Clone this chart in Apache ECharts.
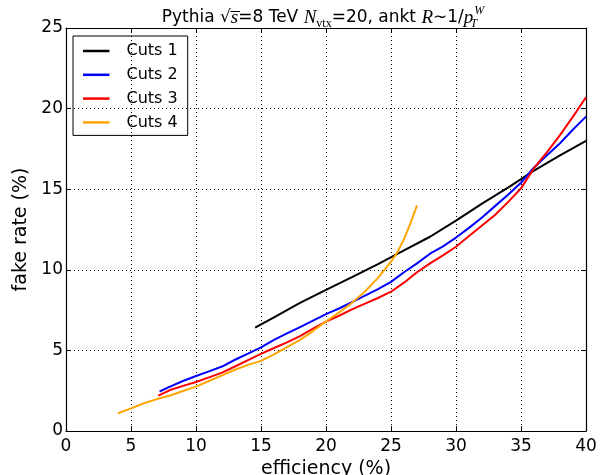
<!DOCTYPE html>
<html>
<head>
<meta charset="utf-8">
<script src="https://cdn.jsdelivr.net/npm/echarts@6/dist/echarts.min.js"></script>
<style>html,body{margin:0;padding:0;background:#fff}#c{width:600px;height:475px}</style>
</head>
<body>
<div id="c"></div>
<script>
// ---- data ----
var seriesNames = ['Cuts 1', 'Cuts 2', 'Cuts 3', 'Cuts 4'];
var seriesColors = ['#000000', '#0000ff', '#ff0000', '#ffa500'];

var cuts1X = [14.55, 16, 18, 20, 22, 24, 26, 28, 30, 32, 34, 36, 38, 40];
var cuts1Y = [6.42, 7.05, 7.95, 8.75, 9.55, 10.35, 11.2, 12.05, 13.05, 14.1, 15.1, 16.15, 17.1, 18.0];

var cuts2X = [7.2, 8, 9, 10, 11, 12, 13, 14, 15, 16, 17, 18, 19, 20, 21, 22, 23, 24, 25, 26, 27, 28, 29, 30, 31, 32, 33, 34, 35, 36, 37, 38, 39, 40];
var cuts2Y = [2.45, 2.75, 3.1, 3.41, 3.7, 4.0, 4.42, 4.8, 5.19, 5.65, 6.05, 6.45, 6.85, 7.25, 7.6, 8.0, 8.4, 8.8, 9.25, 9.85, 10.4, 11.0, 11.45, 12.0, 12.6, 13.25, 13.95, 14.65, 15.4, 16.35, 17.1, 17.85, 18.7, 19.5];

var cuts3X = [7.1, 8, 9, 10, 11, 12, 13, 14, 15, 16, 17, 18, 19, 20, 21, 22, 23, 24, 25, 26, 27, 28, 29, 30, 31, 32, 33, 34, 35, 36, 37, 38, 39, 40];
var cuts3Y = [2.2, 2.54, 2.8, 3.04, 3.33, 3.62, 4.0, 4.4, 4.78, 5.15, 5.5, 5.89, 6.35, 6.78, 7.15, 7.55, 7.9, 8.25, 8.64, 9.2, 9.85, 10.4, 10.9, 11.43, 12.1, 12.75, 13.4, 14.2, 15.05, 16.3, 17.3, 18.35, 19.5, 20.7];

var cuts4X = [4.0, 5, 6, 7, 8, 9, 10, 11, 12, 13, 14, 15, 16, 17, 18, 19, 20, 21, 22, 23, 24, 24.5, 25, 25.5, 26, 26.5, 27];
var cuts4Y = [1.1, 1.4, 1.72, 1.98, 2.2, 2.48, 2.75, 3.1, 3.45, 3.8, 4.1, 4.35, 4.75, 5.2, 5.65, 6.2, 6.8, 7.35, 7.95, 8.65, 9.5, 10.0, 10.5, 11.1, 11.9, 12.9, 14.0];

var xTicks = [0, 5, 10, 15, 20, 25, 30, 35, 40];
var yTicks = [0, 5, 10, 15, 20, 25];
var xTitle = 'efficiency (%)';
var yTitle = 'fake rate (%)';

// ---- build ----
var xs = [cuts1X, cuts2X, cuts3X, cuts4X];
var ys = [cuts1Y, cuts2Y, cuts3Y, cuts4Y];
function zip(a, b) { return a.map(function (v, i) { return [v, b[i]]; }); }

var FONT = 'DejaVu Sans';
var chart = echarts.init(document.getElementById('c'), null, { renderer: 'canvas' });

var gridLine = { show: true, lineStyle: { color: '#000', type: [1, 3], width: 1 } };
var frameLine = { show: true, onZero: false, lineStyle: { color: '#000', width: 1.2 } };
var tickIn = { show: true, inside: true, length: 5, lineStyle: { color: '#000', width: 1 } };

var option = {
  animation: false,
  backgroundColor: '#fff',
  title: {
    left: 318, textAlign: 'center', top: 0,
    text: '{n|Pythia }{n|√}{it|s\u0305}{n|=8 TeV }{it|N}{sub|vtx}{n|=20, ankt }{it|R}{n|∼1/}{it|p}{subT|T}{sup|W}',
    textStyle: {
      fontWeight: 'normal',
      rich: {
        n: { fontFamily: FONT, fontSize: 17, fontWeight: 'normal', color: '#000', lineHeight: 25, verticalAlign: 'middle' },
        it: { fontFamily: 'Liberation Serif', fontStyle: 'italic', fontWeight: 'normal', fontSize: 19, color: '#000', lineHeight: 25, verticalAlign: 'middle' },
        sub: { fontFamily: 'Liberation Serif', fontWeight: 'normal', fontSize: 12, color: '#000', lineHeight: 25, verticalAlign: 'bottom' },
        subT: { fontFamily: 'Liberation Serif', fontStyle: 'italic', fontWeight: 'normal', fontSize: 12, color: '#000', lineHeight: 25, verticalAlign: 'bottom', width: 1 },
        sup: { fontFamily: 'Liberation Serif', fontStyle: 'italic', fontWeight: 'normal', fontSize: 12, color: '#000', lineHeight: 25, verticalAlign: 'top' }
      }
    }
  },
  legend: {
    data: seriesNames,
    orient: 'vertical',
    left: 73, top: 36,
    padding: [7, 10, 5, 10],
    itemGap: 7.8,
    itemWidth: 26.5,
    itemHeight: 2.5,
    icon: 'rect',
    borderColor: '#000',
    borderWidth: 1,
    borderRadius: 0,
    textStyle: { fontFamily: FONT, fontSize: 16, color: '#000', lineHeight: 16, padding: [0, 0, 0, 12] }
  },
  grid: { left: 66, right: 14, top: 28, bottom: 44, containLabel: false, outerBoundsMode: 'none' },
  xAxis: [{
    type: 'value', min: xTicks[0], max: xTicks[xTicks.length - 1], interval: 5,
    position: 'bottom',
    name: xTitle, nameLocation: 'middle', nameGap: 25,
    nameTextStyle: { fontFamily: FONT, fontSize: 19, color: '#000' },
    axisLine: frameLine, axisTick: tickIn, splitLine: gridLine,
    axisLabel: { fontFamily: FONT, fontSize: 17, color: '#000', margin: 7 }
  }, {
    type: 'value', min: xTicks[0], max: xTicks[xTicks.length - 1], interval: 5,
    position: 'top',
    axisLine: frameLine, axisTick: tickIn, splitLine: { show: false }, axisLabel: { show: false }
  }],
  yAxis: [{
    type: 'value', min: yTicks[0], max: yTicks[yTicks.length - 1], interval: 5,
    position: 'left',
    name: yTitle, nameLocation: 'middle', nameGap: 34,
    nameTextStyle: { fontFamily: FONT, fontSize: 19, color: '#000' },
    axisLine: frameLine, axisTick: tickIn, splitLine: gridLine,
    axisLabel: { fontFamily: FONT, fontSize: 17, color: '#000', margin: 3 }
  }, {
    type: 'value', min: yTicks[0], max: yTicks[yTicks.length - 1], interval: 5,
    position: 'right',
    axisLine: frameLine, axisTick: tickIn, splitLine: { show: false }, axisLabel: { show: false }
  }],
  series: seriesNames.map(function (name, i) {
    return {
      name: name, type: 'line', xAxisIndex: 0, yAxisIndex: 0,
      data: zip(xs[i], ys[i]),
      showSymbol: false, symbol: 'none',
      lineStyle: { color: seriesColors[i], width: 2 },
      itemStyle: { color: seriesColors[i] },
      z: 3 + i
    };
  })
};
chart.setOption(option);
</script>
</body>
</html>
